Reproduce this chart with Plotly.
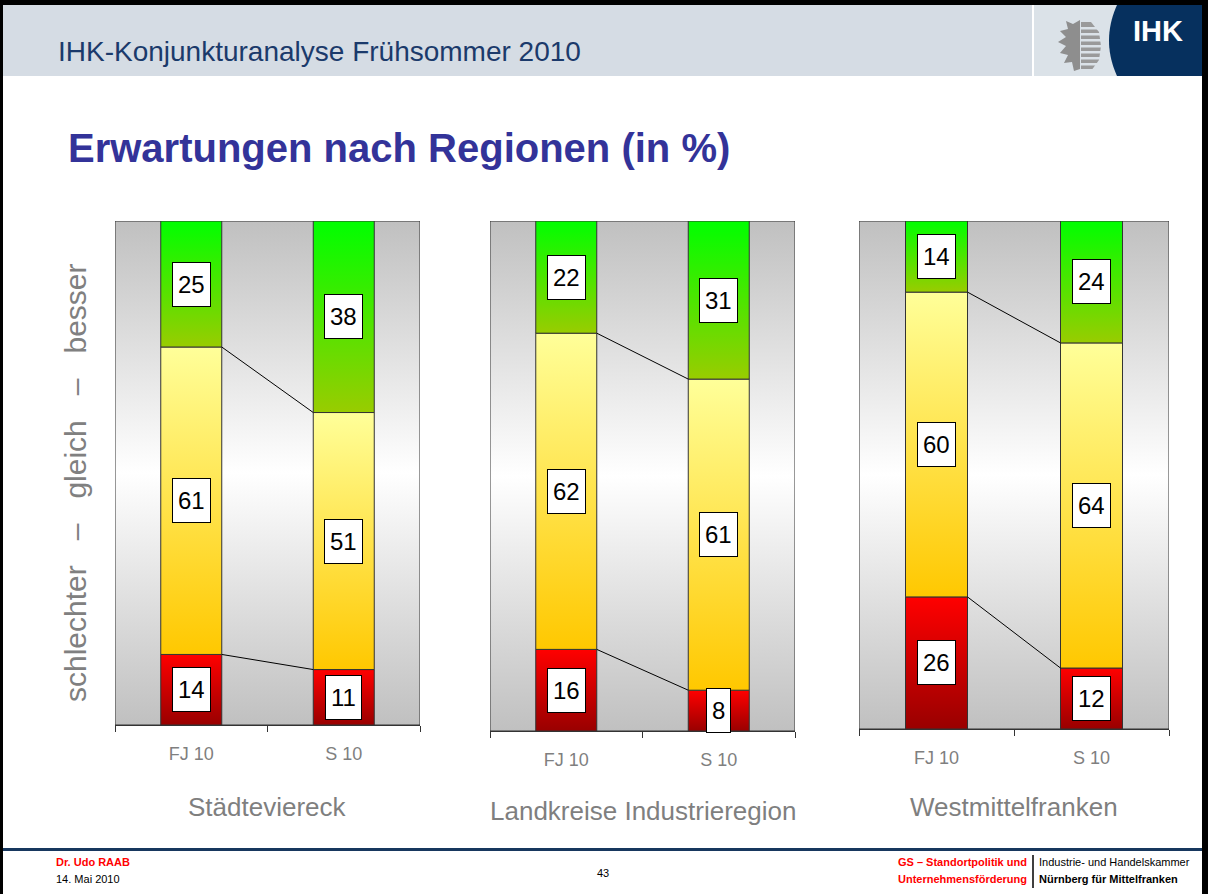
import plotly.graph_objects as go

# ---------------- data ----------------
regions = ["Städteviereck", "Landkreise Industrieregion", "Westmittelfranken"]
periods = ["FJ 10", "S 10"]
schlechter = [[14, 11], [16, 8], [26, 12]]
gleich = [[61, 51], [62, 61], [60, 64]]
besser = [[25, 38], [22, 31], [14, 24]]
y_label = "schlechter   –   gleich   –   besser"
slide_header = "IHK-Konjunkturanalyse Frühsommer 2010"
slide_title = "Erwartungen nach Regionen (in %)"

# ---------------- layout helpers ----------------
W, H = 1208, 894
FONT = "Arial, Liberation Sans, sans-serif"


def px(x):
    return x / W


def py(y):
    return 1 - y / H


# panel boxes in pixels: (left, right, top, bottom)
panels_px = [(115, 420, 221, 725), (490, 795, 221, 731), (859, 1169, 221, 729)]
region_title_y = [807, 811, 807]

seg_scales = [
    [[0, "#990000"], [1, "#ff0000"]],      # schlechter
    [[0, "#ffc800"], [1, "#ffff99"]],      # gleich
    [[0, "#99cc00"], [1, "#00ff00"]],      # besser
]
bar_half = 0.2

fig = go.Figure()
annotations = []
shapes = []

for p, (x0, x1, y0, y1) in enumerate(panels_px):
    sfx = "" if p == 0 else str(p + 1)
    xa, ya = "x" + sfx, "y" + sfx
    # background gradient panel
    fig.add_trace(go.Scatter(
        x=[-0.5, 1.5, 1.5, -0.5, -0.5], y=[0, 0, 100, 100, 0],
        xaxis=xa, yaxis=ya, mode="lines", fill="toself",
        fillgradient=dict(type="vertical",
                          colorscale=[[0, "#c0c0c0"], [0.5, "#ffffff"], [1, "#c0c0c0"]]),
        line=dict(color="#333333", width=1), hoverinfo="skip"))
    stacks = [schlechter[p], gleich[p], besser[p]]
    tops = {}
    for j in range(2):
        base = 0
        for s, series in enumerate(stacks):
            v = series[j]
            top = base + v
            fig.add_trace(go.Scatter(
                x=[j - bar_half, j + bar_half, j + bar_half, j - bar_half, j - bar_half],
                y=[base, base, top, top, base],
                xaxis=xa, yaxis=ya, mode="lines", fill="toself",
                fillgradient=dict(type="vertical", colorscale=seg_scales[s]),
                line=dict(color="#333333", width=1), hoverinfo="skip"))
            tops[(j, s)] = top
            base = top
    # connecting lines
    for s in range(2):
        fig.add_trace(go.Scatter(
            x=[0 + bar_half, 1 - bar_half], y=[tops[(0, s)], tops[(1, s)]],
            xaxis=xa, yaxis=ya, mode="lines",
            line=dict(color="#000000", width=1), hoverinfo="skip"))
    # value labels
    for j in range(2):
        base = 0
        for s, series in enumerate(stacks):
            v = series[j]
            annotations.append(dict(
                x=j, y=base + v / 2, xref=xa, yref=ya, text=str(v), showarrow=False,
                font=dict(family=FONT, size=24, color="#000000"),
                bgcolor="#ffffff", bordercolor="#000000", borderwidth=1, borderpad=5,
                height=33))
            base += v
    # axes
    fig.update_layout(**{
        "xaxis" + sfx: dict(domain=[px(x0), px(x1)], range=[-0.5, 1.5], anchor=ya,
                            showgrid=False, zeroline=False, showline=True,
                            linecolor="#333333", linewidth=1,
                            tickmode="array", tickvals=[0, 1], ticktext=periods,
                            ticks="", tickfont=dict(family=FONT, size=18, color="#7f7f7f"),
                            ticklabelstandoff=12,
                            minor=dict(tickmode="array", tickvals=[-0.5, 0.5, 1.5],
                                       ticks="outside", ticklen=6, tickcolor="#333333",
                                       tickwidth=1, showgrid=False),
                            fixedrange=True),
        "yaxis" + sfx: dict(domain=[py(y1), py(y0)], range=[0, 100], anchor=xa,
                            visible=False, fixedrange=True),
    })
    # region title
    annotations.append(dict(
        x=px((x0 + x1) / 2), y=py(region_title_y[p]), xref="paper", yref="paper",
        text=regions[p], showarrow=False, xanchor="center", yanchor="middle",
        font=dict(family=FONT, size=26, color="#7f7f7f")))

# y-axis label
annotations.append(dict(
    x=px(75), y=py(483), xref="paper", yref="paper", text=y_label, showarrow=False,
    textangle=-90, xanchor="center", yanchor="middle",
    font=dict(family=FONT, size=30, color="#808080")))

# ---------------- slide decoration ----------------
def rect(xa0, ya0, xa1, ya1, color, line_w=0):
    shapes.append(dict(type="rect", xref="paper", yref="paper",
                       x0=px(xa0), x1=px(xa1), y0=py(ya1), y1=py(ya0),
                       fillcolor=color, line=dict(width=line_w), layer="below"))


def path(points, color, close=True):
    d = "M " + " L ".join(f"{px(a):.5f},{py(b):.5f}" for a, b in points)
    if close:
        d += " Z"
    shapes.append(dict(type="path", xref="paper", yref="paper", path=d,
                       fillcolor=color, line=dict(width=0), layer="below"))


# header band
rect(3, 5, 1202, 76, "#d5dce4")
rect(1034, 5, 1202, 76, "#dbe2e8")
rect(1032, 5, 1034, 76, "#ffffff")
# navy logo block with curved left edge
navy_pts = [(1117, 5), (1202, 5), (1202, 76), (1117, 76)]
curve = [(1117 - 8 * (1 - ((t - 40.5) / 35.5) ** 2), t) for t in range(76, 4, -4)]
path(navy_pts + curve, "#06305e")
# emblem: eagle half + striped half
path([(1080, 20), (1073, 24), (1066, 21), (1068, 29), (1060, 31), (1066, 37),
      (1058, 42), (1066, 46), (1060, 53), (1068, 55), (1064, 63), (1072, 62),
      (1074, 71), (1080, 69)], "#8e8e8e")
path([(1081, 22), (1091, 22), (1099, 32), (1101, 46), (1099, 60), (1091, 71),
      (1081, 71)], "#9a9a9a")
for yy in range(27, 70, 6):
    rect(1081, yy, 1102, yy + 2.5, "#dbe2e8")
# slide frame
rect(0, 0, W, 5, "#000000")
rect(0, 0, 3, H, "#000000")
rect(1202, 0, W, H, "#000000")
# footer line
rect(3, 848, 1202, 851, "#17375e")
shapes.append(dict(type="line", xref="paper", yref="paper",
                   x0=px(1033), x1=px(1033), y0=py(855), y1=py(888),
                   line=dict(color="#000000", width=1.5)))


def text(x, y, s, size, color="#000000", bold=False, anchor="left", family=FONT):
    annotations.append(dict(
        x=px(x), y=py(y), xref="paper", yref="paper", showarrow=False,
        text=f"<b>{s}</b>" if bold else s, xanchor=anchor, yanchor="middle",
        font=dict(family=family, size=size, color=color)))


text(56, 52, slide_header, 28, "#1b3a6b")
text(1158, 31, "IHK", 29, "#ffffff", bold=True, anchor="center")
text(66, 148, slide_title, 40, "#333399", bold=True)
text(54, 862, "Dr. Udo RAAB", 11, "#ff0000", bold=True)
text(54, 879, "14. Mai 2010", 11)
text(603, 873, "43", 11, anchor="center")
text(1029, 862, "GS – Standortpolitik und", 11, "#ff0000", bold=True, anchor="right")
text(1029, 879, "Unternehmensförderung", 11, "#ff0000", bold=True, anchor="right")
text(1037, 862, "Industrie- und Handelskammer", 11)
text(1037, 879, "Nürnberg für Mittelfranken", 11, bold=True)

fig.update_layout(
    width=W, height=H, autosize=False,
    margin=dict(l=0, r=0, t=0, b=0),
    paper_bgcolor="#ffffff", plot_bgcolor="rgba(0,0,0,0)",
    showlegend=False, annotations=annotations, shapes=shapes,
    font=dict(family=FONT),
)

fig.write_html("out.html", config={"displayModeBar": False},
               post_script="document.body.style.margin='0';document.body.style.overflow='hidden';")
